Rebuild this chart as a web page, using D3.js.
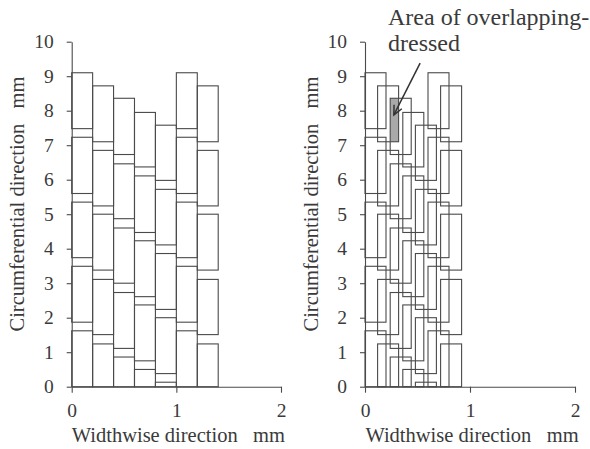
<!DOCTYPE html>
<html>
<head>
<meta charset="utf-8">
<script src="https://cdn.jsdelivr.net/npm/d3@7"></script>
<style>
  html, body { margin: 0; padding: 0; background: #fff; }
  svg text { font-family: "Liberation Serif", "Times New Roman", serif; fill: #3a3a3a; }
</style>
</head>
<body>
<svg id="chart" width="590" height="449"></svg>
<script>
// ---- data (mm) ----
// grain rows per column: [bottom, top] of each dressed segment
const column1 = [[7.48, 9.10], [5.60, 7.23], [3.74, 5.35], [1.87, 3.49], [0, 1.62]];
const column2 = [[7.10, 8.72], [5.24, 6.85], [3.38, 5.00], [1.51, 3.11], [0, 1.24]];
const column3 = [[6.73, 8.36], [4.87, 6.46], [3.00, 4.60], [1.11, 2.73], [0, 0.86]];
const column4 = [[6.37, 7.95], [4.47, 6.11], [2.61, 4.23], [0.75, 2.37], [0, 0.50]];
const column5 = [[5.98, 7.58], [4.11, 5.72], [2.24, 3.86], [0.38, 2.00], [0, 0.13]];
const column6 = column1;
const column7 = column2;
const columns = [column1, column2, column3, column4, column5, column6, column7];
const columnWidth = 0.2;
const leftStarts = [0, 0.2, 0.4, 0.6, 0.8, 1.0, 1.2];     // normal dressing
const rightStarts = [0, 0.12, 0.24, 0.36, 0.48, 0.60, 0.72]; // overlapping dressing
const overlapArea = { x0: 0.24, x1: 0.32, y0: 7.10, y1: 8.36 };
const xTicks = [0, 1, 2];
const yTicks = [0, 1, 2, 3, 4, 5, 6, 7, 8, 9, 10];
const xLabel = "Widthwise direction\u00a0\u00a0\u00a0mm";
const yLabel = "Circumferential direction\u00a0\u00a0\u00a0mm";
const annotationLines = ["Area of overlapping-", "dressed"];
const arrowFrom = [0.525, 9.38];
const arrowTo = [0.275, 7.88];

// ---- drawing ----
const FONT = '"Liberation Serif", "Times New Roman", serif';
const svg = d3.select("#chart");
const lineColor = "#4a4a4a";
const yScale = d3.scaleLinear().domain([0, 10]).range([386.7, 41.7]);

function panel(x0, x1, starts, labelX, withOverlap) {
  const xScale = d3.scaleLinear().domain([0, 2]).range([x0, x1]);
  const g = svg.append("g");

  if (withOverlap) {
    g.append("rect")
      .attr("x", xScale(overlapArea.x0))
      .attr("y", yScale(overlapArea.y1))
      .attr("width", xScale(overlapArea.x1) - xScale(overlapArea.x0))
      .attr("height", yScale(overlapArea.y0) - yScale(overlapArea.y1))
      .attr("fill", "#a9a9a9");
  }

  columns.forEach((col, i) => {
    g.selectAll(null).data(col).enter().append("rect")
      .attr("x", xScale(starts[i]))
      .attr("y", d => yScale(d[1]))
      .attr("width", xScale(starts[i] + columnWidth) - xScale(starts[i]))
      .attr("height", d => yScale(d[0]) - yScale(d[1]))
      .attr("fill", "none")
      .attr("stroke", lineColor)
      .attr("stroke-width", 1.1);
  });

  const yAxis = d3.axisLeft(yScale).tickValues(yTicks).tickFormat(d3.format("d"))
    .tickSize(5).tickSizeOuter(0).tickPadding(13);
  const ya = g.append("g").attr("transform", `translate(${x0},0)`).call(yAxis);
  const xAxis = d3.axisBottom(xScale).tickValues(xTicks).tickFormat(d3.format("d"))
    .tickSize(6).tickSizeOuter(0);
  const xa = g.append("g").attr("transform", `translate(0,${yScale(0)})`).call(xAxis);

  [ya, xa].forEach(a => {
    a.attr("font-family", null);
    a.select(".domain").attr("stroke", lineColor).attr("stroke-width", 1.1);
    a.selectAll(".tick line").attr("stroke", lineColor).attr("stroke-width", 1.1);
    a.selectAll("text").style("font-family", FONT).style("font-size", "19.5px").attr("fill", "#3a3a3a");
  });
  xa.selectAll("text").attr("y", 30).attr("dy", 0);

  g.append("text")
    .attr("x", (x0 + x1) / 2 + 2)
    .attr("y", 441.5)
    .attr("text-anchor", "middle")
    .style("font-family", FONT)
    .style("font-size", "20.5px")
    .text(xLabel);

  g.append("text")
    .attr("transform", `translate(${labelX},204) rotate(-90)`)
    .attr("text-anchor", "middle")
    .attr("dy", "0.35em")
    .style("font-family", FONT)
    .style("font-size", "20.5px")
    .text(yLabel);

  return xScale;
}

panel(71.7, 281, leftStarts, 17, false);
const xr = panel(365, 575, rightStarts, 311, true);

// annotation
const ann = svg.append("text").style("font-family", FONT).style("font-size", "24px");
annotationLines.forEach((t, i) => {
  ann.append("tspan").attr("x", 388).attr("y", 25 + i * 26).text(t);
});

const ax0 = xr(arrowFrom[0]), ay0 = yScale(arrowFrom[1]);
const ax1 = xr(arrowTo[0]), ay1 = yScale(arrowTo[1]);
svg.append("line")
  .attr("x1", ax0).attr("y1", ay0).attr("x2", ax1).attr("y2", ay1)
  .attr("stroke", "#333").attr("stroke-width", 1.5);
const ang = Math.atan2(ay1 - ay0, ax1 - ax0);
const headLen = 10, spread = 0.45;
const head = [
  [ax1 - headLen * Math.cos(ang - spread), ay1 - headLen * Math.sin(ang - spread)],
  [ax1, ay1],
  [ax1 - headLen * Math.cos(ang + spread), ay1 - headLen * Math.sin(ang + spread)]
];
svg.append("path")
  .attr("d", d3.line()(head))
  .attr("fill", "none")
  .attr("stroke", "#333")
  .attr("stroke-width", 1.5);
</script>
</body>
</html>
